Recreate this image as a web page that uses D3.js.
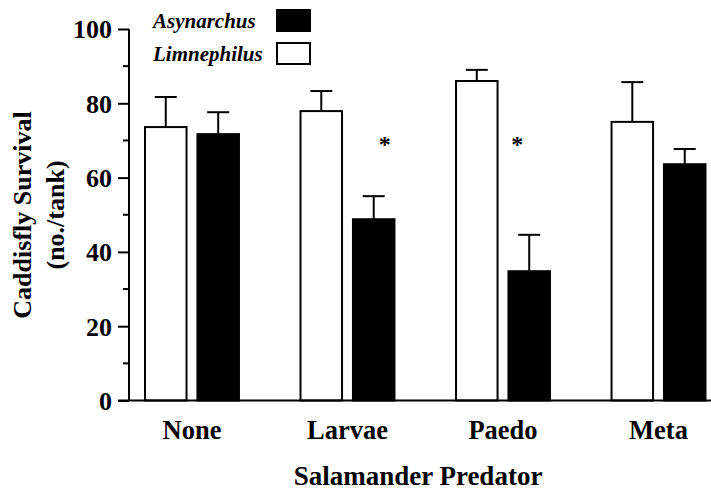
<!DOCTYPE html>
<html>
<head>
<meta charset="utf-8">
<script src="https://cdn.jsdelivr.net/npm/d3@7"></script>
<style>
  body { margin: 0; background: #fff; }
</style>
</head>
<body>
<svg id="grafica" width="711" height="491"></svg>
<script>
// datos
const depredadores = ["None", "Larvae", "Paedo", "Meta"];
const especies     = ["Limnephilus", "Asynarchus"];
const limnephilus  = [73.6, 77.9, 86.0, 75.0];
const limnephilusEE = [8.1, 5.4, 3.0, 10.7];
const asynarchus   = [71.7, 48.8, 34.8, 63.6];
const asynarchusEE = [5.9, 6.2, 9.8, 4.1];
const yTicks       = [0, 20, 40, 60, 80, 100];
const yMenores     = [10, 30, 50, 70, 90];
const asteriscos   = [{ grupo: "Larvae", valor: 70, dx: 11 }, { grupo: "Paedo", valor: 70, dx: -12 }];

const fuente = "Liberation Serif";
const svg = d3.select("#grafica");

const y = d3.scaleLinear().domain([0, 100]).range([400.5, 29]);
const x = d3.scaleBand().domain(depredadores)
  .range([129, 721.5]).paddingInner(0.383).paddingOuter(0.0965);
const xs = d3.scaleBand().domain(especies)
  .range([0, x.bandwidth()]).paddingInner(0.17);

const relleno = { Limnephilus: "#fff", Asynarchus: "#000" };

const filas = [];
depredadores.forEach((g, i) => {
  filas.push({ grupo: g, especie: "Limnephilus", valor: limnephilus[i], ee: limnephilusEE[i] });
  filas.push({ grupo: g, especie: "Asynarchus", valor: asynarchus[i], ee: asynarchusEE[i] });
});

// barras de error (solo hacia arriba)
const err = svg.append("g").attr("stroke", "#000").attr("stroke-width", 2);
filas.forEach(d => {
  const cx = x(d.grupo) + xs(d.especie) + xs.bandwidth() / 2;
  err.append("line").attr("x1", cx).attr("x2", cx)
    .attr("y1", y(d.valor)).attr("y2", y(d.valor + d.ee));
  err.append("line").attr("x1", cx - 11).attr("x2", cx + 11)
    .attr("y1", y(d.valor + d.ee)).attr("y2", y(d.valor + d.ee));
});

// barras
svg.append("g").selectAll("rect")
  .data(filas)
  .join("rect")
  .attr("x", d => x(d.grupo) + xs(d.especie) + 1)
  .attr("y", d => y(d.valor))
  .attr("width", xs.bandwidth() - 2)
  .attr("height", d => y(0) - y(d.valor))
  .attr("fill", d => relleno[d.especie])
  .attr("stroke", "#000")
  .attr("stroke-width", 2);

// asteriscos
svg.append("g").selectAll("text")
  .data(asteriscos)
  .join("text")
  .attr("x", d => x(d.grupo) + xs("Asynarchus") + xs.bandwidth() / 2 + d.dx)
  .attr("y", d => y(d.valor) + 12)
  .attr("text-anchor", "middle")
  .attr("font-family", fuente).attr("font-weight", "bold")
  .attr("font-size", 24)
  .text("*");

// eje y
const ejeY = svg.append("g").attr("transform", "translate(129,0)")
  .call(d3.axisLeft(y).tickValues(yTicks).tickSize(11).tickPadding(6).tickFormat(d3.format("d")));
ejeY.attr("font-family", fuente).attr("font-size", 26).attr("font-weight", "bold");
ejeY.select(".domain").attr("d", `M0,${y(100)}V${y(0)}`).attr("stroke-width", 2);
ejeY.selectAll(".tick line").attr("stroke-width", 2);
ejeY.selectAll(".tick text").attr("fill", "#000").attr("dy", "0.34em");
ejeY.append("g").selectAll("line")
  .data(yMenores)
  .join("line")
  .attr("x1", -6).attr("x2", 0)
  .attr("y1", d => y(d)).attr("y2", d => y(d))
  .attr("stroke", "#000").attr("stroke-width", 2);

// eje x
svg.append("line").attr("x1", 118).attr("x2", 711)
  .attr("y1", y(0)).attr("y2", y(0))
  .attr("stroke", "#000").attr("stroke-width", 2);
svg.append("g").selectAll("text")
  .data(depredadores)
  .join("text")
  .attr("x", d => x(d) + x.bandwidth() / 2)
  .attr("y", 439)
  .attr("text-anchor", "middle")
  .attr("font-family", fuente).attr("font-weight", "bold")
  .attr("font-size", 26.5)
  .text(d => d);

svg.append("text").attr("x", 418).attr("y", 485)
  .attr("text-anchor", "middle").attr("font-size", 27)
  .attr("font-family", fuente).attr("font-weight", "bold")
  .text("Salamander Predator");

const ty = svg.append("text").attr("text-anchor", "middle").attr("font-size", 26)
  .attr("font-family", fuente).attr("font-weight", "bold")
  .attr("transform", "translate(0,215) rotate(-90)");
ty.append("tspan").attr("x", 0).attr("y", 31).text("Caddisfly Survival");
ty.append("tspan").attr("x", 0).attr("y", 64).text("(no./tank)");

// leyenda
const leyenda = [
  { especie: "Asynarchus", y: 28 },
  { especie: "Limnephilus", y: 61 }
];
const ley = svg.append("g");
ley.selectAll("text")
  .data(leyenda)
  .join("text")
  .attr("x", 153).attr("y", d => d.y)
  .attr("font-family", fuente).attr("font-weight", "bold")
  .attr("font-size", 21).attr("font-style", "italic")
  .text(d => d.especie);
ley.selectAll("rect")
  .data(leyenda)
  .join("rect")
  .attr("x", 277).attr("y", d => d.y - 18)
  .attr("width", 33).attr("height", 21)
  .attr("fill", d => relleno[d.especie])
  .attr("stroke", "#000").attr("stroke-width", 2);
</script>
</body>
</html>
